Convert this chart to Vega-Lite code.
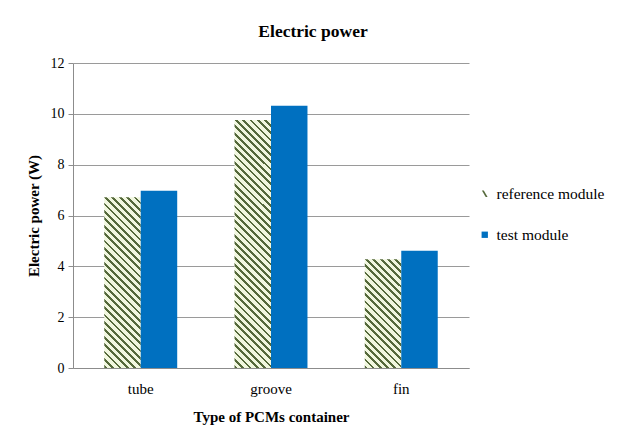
{
  "$schema": "https://vega.github.io/schema/vega-lite/v6.json",
  "width": 396,
  "height": 305,
  "autosize": "none",
  "padding": {"left": 73, "top": 63, "right": 151, "bottom": 62},
  "background": "white",
  "title": {"text": "Electric power", "font": "Liberation Serif", "fontSize": 17.5, "fontWeight": "bold", "color": "#000000", "anchor": "middle", "dx": 42, "offset": 16},
  "data": {"values": [
    {"type": "tube", "module": "reference module", "power": 6.72},
    {"type": "tube", "module": "test module", "power": 6.97},
    {"type": "groove", "module": "reference module", "power": 9.76},
    {"type": "groove", "module": "test module", "power": 10.32},
    {"type": "fin", "module": "reference module", "power": 4.28},
    {"type": "fin", "module": "test module", "power": 4.61}
  ]},
  "mark": {"type": "bar"},
  "encoding": {
    "x": {"field": "type", "type": "nominal", "sort": ["tube", "groove", "fin"], "scale": {"paddingInner": 0.44, "paddingOuter": 0.24},
      "axis": {"title": "Type of PCMs container", "labelAngle": 0, "ticks": false, "labelPadding": 13, "titlePadding": 13, "domainColor": "#8c8c8c",
        "labelFont": "Liberation Serif", "labelFontSize": 15, "labelColor": "#000000", "titleFont": "Liberation Serif", "titleFontSize": 15, "titleFontWeight": "bold", "titleColor": "#000000"}},
    "xOffset": {"field": "module", "type": "nominal", "sort": ["reference module", "test module"]},
    "y": {"field": "power", "type": "quantitative", "scale": {"domain": [0, 12]},
      "axis": {"title": "Electric power  (W)", "values": [0, 2, 4, 6, 8, 10, 12], "grid": true, "tickSize": 5, "labelPadding": 4, "titlePadding": 9, "domainColor": "#8c8c8c", "tickColor": "#8c8c8c", "gridColor": "#9a9a9a",
        "labelFont": "Liberation Serif", "labelFontSize": 14, "labelColor": "#000000", "titleFont": "Liberation Serif", "titleFontSize": 15, "titleFontWeight": "bold", "titleColor": "#000000"}},
    "fill": {
      "field": "module", "type": "nominal",
      "scale": {"domain": ["reference module", "test module"], "range": ["#55693b", "#0070c0"]},
      "legend": {"title": null, "orient": "none", "legendX": 404, "legendY": 123, "padding": 0, "symbolSize": 40, "rowPadding": 24, "labelFont": "Liberation Serif", "labelFontSize": 15.5, "labelColor": "#000000", "labelOffset": 4,
        "encode": {"symbols": {"update": {"shape": {"signal": "datum.value === 'reference module' ? 'M-0.9,-1L-0.3,-1L0.9,1L0.3,1Z' : 'square'"}}}}},
      "condition": [
        {"test": "datum.module === 'reference module' && datum.type === 'tube'", "value": {"gradient": "linear", "x1": 0, "y1": 1, "x2": 0.2476, "y2": -0.16, "stops": [
          {"offset": 0, "color": "#55693b"}, {"offset": 0.0136, "color": "#55693b"}, {"offset": 0.0136, "color": "#f1f7df"}, {"offset": 0.0357, "color": "#f1f7df"},
          {"offset": 0.0357, "color": "#55693b"}, {"offset": 0.0493, "color": "#55693b"}, {"offset": 0.0493, "color": "#f1f7df"}, {"offset": 0.0714, "color": "#f1f7df"},
          {"offset": 0.0714, "color": "#55693b"}, {"offset": 0.085, "color": "#55693b"}, {"offset": 0.085, "color": "#f1f7df"}, {"offset": 0.1071, "color": "#f1f7df"},
          {"offset": 0.1071, "color": "#55693b"}, {"offset": 0.1207, "color": "#55693b"}, {"offset": 0.1207, "color": "#f1f7df"}, {"offset": 0.1429, "color": "#f1f7df"},
          {"offset": 0.1429, "color": "#55693b"}, {"offset": 0.1564, "color": "#55693b"}, {"offset": 0.1564, "color": "#f1f7df"}, {"offset": 0.1786, "color": "#f1f7df"},
          {"offset": 0.1786, "color": "#55693b"}, {"offset": 0.1921, "color": "#55693b"}, {"offset": 0.1921, "color": "#f1f7df"}, {"offset": 0.2143, "color": "#f1f7df"},
          {"offset": 0.2143, "color": "#55693b"}, {"offset": 0.2279, "color": "#55693b"}, {"offset": 0.2279, "color": "#f1f7df"}, {"offset": 0.25, "color": "#f1f7df"},
          {"offset": 0.25, "color": "#55693b"}, {"offset": 0.2636, "color": "#55693b"}, {"offset": 0.2636, "color": "#f1f7df"}, {"offset": 0.2857, "color": "#f1f7df"},
          {"offset": 0.2857, "color": "#55693b"}, {"offset": 0.2993, "color": "#55693b"}, {"offset": 0.2993, "color": "#f1f7df"}, {"offset": 0.3214, "color": "#f1f7df"},
          {"offset": 0.3214, "color": "#55693b"}, {"offset": 0.335, "color": "#55693b"}, {"offset": 0.335, "color": "#f1f7df"}, {"offset": 0.3571, "color": "#f1f7df"},
          {"offset": 0.3571, "color": "#55693b"}, {"offset": 0.3707, "color": "#55693b"}, {"offset": 0.3707, "color": "#f1f7df"}, {"offset": 0.3929, "color": "#f1f7df"},
          {"offset": 0.3929, "color": "#55693b"}, {"offset": 0.4064, "color": "#55693b"}, {"offset": 0.4064, "color": "#f1f7df"}, {"offset": 0.4286, "color": "#f1f7df"},
          {"offset": 0.4286, "color": "#55693b"}, {"offset": 0.4421, "color": "#55693b"}, {"offset": 0.4421, "color": "#f1f7df"}, {"offset": 0.4643, "color": "#f1f7df"},
          {"offset": 0.4643, "color": "#55693b"}, {"offset": 0.4779, "color": "#55693b"}, {"offset": 0.4779, "color": "#f1f7df"}, {"offset": 0.5, "color": "#f1f7df"},
          {"offset": 0.5, "color": "#55693b"}, {"offset": 0.5136, "color": "#55693b"}, {"offset": 0.5136, "color": "#f1f7df"}, {"offset": 0.5357, "color": "#f1f7df"},
          {"offset": 0.5357, "color": "#55693b"}, {"offset": 0.5493, "color": "#55693b"}, {"offset": 0.5493, "color": "#f1f7df"}, {"offset": 0.5714, "color": "#f1f7df"},
          {"offset": 0.5714, "color": "#55693b"}, {"offset": 0.585, "color": "#55693b"}, {"offset": 0.585, "color": "#f1f7df"}, {"offset": 0.6071, "color": "#f1f7df"},
          {"offset": 0.6071, "color": "#55693b"}, {"offset": 0.6207, "color": "#55693b"}, {"offset": 0.6207, "color": "#f1f7df"}, {"offset": 0.6429, "color": "#f1f7df"},
          {"offset": 0.6429, "color": "#55693b"}, {"offset": 0.6564, "color": "#55693b"}, {"offset": 0.6564, "color": "#f1f7df"}, {"offset": 0.6786, "color": "#f1f7df"},
          {"offset": 0.6786, "color": "#55693b"}, {"offset": 0.6921, "color": "#55693b"}, {"offset": 0.6921, "color": "#f1f7df"}, {"offset": 0.7143, "color": "#f1f7df"},
          {"offset": 0.7143, "color": "#55693b"}, {"offset": 0.7279, "color": "#55693b"}, {"offset": 0.7279, "color": "#f1f7df"}, {"offset": 0.75, "color": "#f1f7df"},
          {"offset": 0.75, "color": "#55693b"}, {"offset": 0.7636, "color": "#55693b"}, {"offset": 0.7636, "color": "#f1f7df"}, {"offset": 0.7857, "color": "#f1f7df"},
          {"offset": 0.7857, "color": "#55693b"}, {"offset": 0.7993, "color": "#55693b"}, {"offset": 0.7993, "color": "#f1f7df"}, {"offset": 0.8214, "color": "#f1f7df"},
          {"offset": 0.8214, "color": "#55693b"}, {"offset": 0.835, "color": "#55693b"}, {"offset": 0.835, "color": "#f1f7df"}, {"offset": 0.8571, "color": "#f1f7df"},
          {"offset": 0.8571, "color": "#55693b"}, {"offset": 0.8707, "color": "#55693b"}, {"offset": 0.8707, "color": "#f1f7df"}, {"offset": 0.8929, "color": "#f1f7df"},
          {"offset": 0.8929, "color": "#55693b"}, {"offset": 0.9064, "color": "#55693b"}, {"offset": 0.9064, "color": "#f1f7df"}, {"offset": 0.9286, "color": "#f1f7df"},
          {"offset": 0.9286, "color": "#55693b"}, {"offset": 0.9421, "color": "#55693b"}, {"offset": 0.9421, "color": "#f1f7df"}, {"offset": 0.9643, "color": "#f1f7df"},
          {"offset": 0.9643, "color": "#55693b"}, {"offset": 0.9779, "color": "#55693b"}, {"offset": 0.9779, "color": "#f1f7df"}, {"offset": 1, "color": "#f1f7df"}
        ]}},
        {"test": "datum.module === 'reference module' && datum.type === 'groove'", "value": {"gradient": "linear", "x1": 0, "y1": 1, "x2": 0.1649, "y2": -0.1227, "stops": [
          {"offset": 0, "color": "#55693b"}, {"offset": 0.0097, "color": "#55693b"}, {"offset": 0.0097, "color": "#f1f7df"}, {"offset": 0.0256, "color": "#f1f7df"},
          {"offset": 0.0256, "color": "#55693b"}, {"offset": 0.0354, "color": "#55693b"}, {"offset": 0.0354, "color": "#f1f7df"}, {"offset": 0.0513, "color": "#f1f7df"},
          {"offset": 0.0513, "color": "#55693b"}, {"offset": 0.061, "color": "#55693b"}, {"offset": 0.061, "color": "#f1f7df"}, {"offset": 0.0769, "color": "#f1f7df"},
          {"offset": 0.0769, "color": "#55693b"}, {"offset": 0.0867, "color": "#55693b"}, {"offset": 0.0867, "color": "#f1f7df"}, {"offset": 0.1026, "color": "#f1f7df"},
          {"offset": 0.1026, "color": "#55693b"}, {"offset": 0.1123, "color": "#55693b"}, {"offset": 0.1123, "color": "#f1f7df"}, {"offset": 0.1282, "color": "#f1f7df"},
          {"offset": 0.1282, "color": "#55693b"}, {"offset": 0.138, "color": "#55693b"}, {"offset": 0.138, "color": "#f1f7df"}, {"offset": 0.1538, "color": "#f1f7df"},
          {"offset": 0.1538, "color": "#55693b"}, {"offset": 0.1636, "color": "#55693b"}, {"offset": 0.1636, "color": "#f1f7df"}, {"offset": 0.1795, "color": "#f1f7df"},
          {"offset": 0.1795, "color": "#55693b"}, {"offset": 0.1892, "color": "#55693b"}, {"offset": 0.1892, "color": "#f1f7df"}, {"offset": 0.2051, "color": "#f1f7df"},
          {"offset": 0.2051, "color": "#55693b"}, {"offset": 0.2149, "color": "#55693b"}, {"offset": 0.2149, "color": "#f1f7df"}, {"offset": 0.2308, "color": "#f1f7df"},
          {"offset": 0.2308, "color": "#55693b"}, {"offset": 0.2405, "color": "#55693b"}, {"offset": 0.2405, "color": "#f1f7df"}, {"offset": 0.2564, "color": "#f1f7df"},
          {"offset": 0.2564, "color": "#55693b"}, {"offset": 0.2662, "color": "#55693b"}, {"offset": 0.2662, "color": "#f1f7df"}, {"offset": 0.2821, "color": "#f1f7df"},
          {"offset": 0.2821, "color": "#55693b"}, {"offset": 0.2918, "color": "#55693b"}, {"offset": 0.2918, "color": "#f1f7df"}, {"offset": 0.3077, "color": "#f1f7df"},
          {"offset": 0.3077, "color": "#55693b"}, {"offset": 0.3174, "color": "#55693b"}, {"offset": 0.3174, "color": "#f1f7df"}, {"offset": 0.3333, "color": "#f1f7df"},
          {"offset": 0.3333, "color": "#55693b"}, {"offset": 0.3431, "color": "#55693b"}, {"offset": 0.3431, "color": "#f1f7df"}, {"offset": 0.359, "color": "#f1f7df"},
          {"offset": 0.359, "color": "#55693b"}, {"offset": 0.3687, "color": "#55693b"}, {"offset": 0.3687, "color": "#f1f7df"}, {"offset": 0.3846, "color": "#f1f7df"},
          {"offset": 0.3846, "color": "#55693b"}, {"offset": 0.3944, "color": "#55693b"}, {"offset": 0.3944, "color": "#f1f7df"}, {"offset": 0.4103, "color": "#f1f7df"},
          {"offset": 0.4103, "color": "#55693b"}, {"offset": 0.42, "color": "#55693b"}, {"offset": 0.42, "color": "#f1f7df"}, {"offset": 0.4359, "color": "#f1f7df"},
          {"offset": 0.4359, "color": "#55693b"}, {"offset": 0.4456, "color": "#55693b"}, {"offset": 0.4456, "color": "#f1f7df"}, {"offset": 0.4615, "color": "#f1f7df"},
          {"offset": 0.4615, "color": "#55693b"}, {"offset": 0.4713, "color": "#55693b"}, {"offset": 0.4713, "color": "#f1f7df"}, {"offset": 0.4872, "color": "#f1f7df"},
          {"offset": 0.4872, "color": "#55693b"}, {"offset": 0.4969, "color": "#55693b"}, {"offset": 0.4969, "color": "#f1f7df"}, {"offset": 0.5128, "color": "#f1f7df"},
          {"offset": 0.5128, "color": "#55693b"}, {"offset": 0.5226, "color": "#55693b"}, {"offset": 0.5226, "color": "#f1f7df"}, {"offset": 0.5385, "color": "#f1f7df"},
          {"offset": 0.5385, "color": "#55693b"}, {"offset": 0.5482, "color": "#55693b"}, {"offset": 0.5482, "color": "#f1f7df"}, {"offset": 0.5641, "color": "#f1f7df"},
          {"offset": 0.5641, "color": "#55693b"}, {"offset": 0.5738, "color": "#55693b"}, {"offset": 0.5738, "color": "#f1f7df"}, {"offset": 0.5897, "color": "#f1f7df"},
          {"offset": 0.5897, "color": "#55693b"}, {"offset": 0.5995, "color": "#55693b"}, {"offset": 0.5995, "color": "#f1f7df"}, {"offset": 0.6154, "color": "#f1f7df"},
          {"offset": 0.6154, "color": "#55693b"}, {"offset": 0.6251, "color": "#55693b"}, {"offset": 0.6251, "color": "#f1f7df"}, {"offset": 0.641, "color": "#f1f7df"},
          {"offset": 0.641, "color": "#55693b"}, {"offset": 0.6508, "color": "#55693b"}, {"offset": 0.6508, "color": "#f1f7df"}, {"offset": 0.6667, "color": "#f1f7df"},
          {"offset": 0.6667, "color": "#55693b"}, {"offset": 0.6764, "color": "#55693b"}, {"offset": 0.6764, "color": "#f1f7df"}, {"offset": 0.6923, "color": "#f1f7df"},
          {"offset": 0.6923, "color": "#55693b"}, {"offset": 0.7021, "color": "#55693b"}, {"offset": 0.7021, "color": "#f1f7df"}, {"offset": 0.7179, "color": "#f1f7df"},
          {"offset": 0.7179, "color": "#55693b"}, {"offset": 0.7277, "color": "#55693b"}, {"offset": 0.7277, "color": "#f1f7df"}, {"offset": 0.7436, "color": "#f1f7df"},
          {"offset": 0.7436, "color": "#55693b"}, {"offset": 0.7533, "color": "#55693b"}, {"offset": 0.7533, "color": "#f1f7df"}, {"offset": 0.7692, "color": "#f1f7df"},
          {"offset": 0.7692, "color": "#55693b"}, {"offset": 0.779, "color": "#55693b"}, {"offset": 0.779, "color": "#f1f7df"}, {"offset": 0.7949, "color": "#f1f7df"},
          {"offset": 0.7949, "color": "#55693b"}, {"offset": 0.8046, "color": "#55693b"}, {"offset": 0.8046, "color": "#f1f7df"}, {"offset": 0.8205, "color": "#f1f7df"},
          {"offset": 0.8205, "color": "#55693b"}, {"offset": 0.8303, "color": "#55693b"}, {"offset": 0.8303, "color": "#f1f7df"}, {"offset": 0.8462, "color": "#f1f7df"},
          {"offset": 0.8462, "color": "#55693b"}, {"offset": 0.8559, "color": "#55693b"}, {"offset": 0.8559, "color": "#f1f7df"}, {"offset": 0.8718, "color": "#f1f7df"},
          {"offset": 0.8718, "color": "#55693b"}, {"offset": 0.8815, "color": "#55693b"}, {"offset": 0.8815, "color": "#f1f7df"}, {"offset": 0.8974, "color": "#f1f7df"},
          {"offset": 0.8974, "color": "#55693b"}, {"offset": 0.9072, "color": "#55693b"}, {"offset": 0.9072, "color": "#f1f7df"}, {"offset": 0.9231, "color": "#f1f7df"},
          {"offset": 0.9231, "color": "#55693b"}, {"offset": 0.9328, "color": "#55693b"}, {"offset": 0.9328, "color": "#f1f7df"}, {"offset": 0.9487, "color": "#f1f7df"},
          {"offset": 0.9487, "color": "#55693b"}, {"offset": 0.9585, "color": "#55693b"}, {"offset": 0.9585, "color": "#f1f7df"}, {"offset": 0.9744, "color": "#f1f7df"},
          {"offset": 0.9744, "color": "#55693b"}, {"offset": 0.9841, "color": "#55693b"}, {"offset": 0.9841, "color": "#f1f7df"}, {"offset": 1, "color": "#f1f7df"}
        ]}},
        {"test": "datum.module === 'reference module' && datum.type === 'fin'", "value": {"gradient": "linear", "x1": 0, "y1": 1, "x2": 0.4021, "y2": -0.2003, "stops": [
          {"offset": 0, "color": "#55693b"}, {"offset": 0.019, "color": "#55693b"}, {"offset": 0.019, "color": "#f1f7df"}, {"offset": 0.05, "color": "#f1f7df"},
          {"offset": 0.05, "color": "#55693b"}, {"offset": 0.069, "color": "#55693b"}, {"offset": 0.069, "color": "#f1f7df"}, {"offset": 0.1, "color": "#f1f7df"},
          {"offset": 0.1, "color": "#55693b"}, {"offset": 0.119, "color": "#55693b"}, {"offset": 0.119, "color": "#f1f7df"}, {"offset": 0.15, "color": "#f1f7df"},
          {"offset": 0.15, "color": "#55693b"}, {"offset": 0.169, "color": "#55693b"}, {"offset": 0.169, "color": "#f1f7df"}, {"offset": 0.2, "color": "#f1f7df"},
          {"offset": 0.2, "color": "#55693b"}, {"offset": 0.219, "color": "#55693b"}, {"offset": 0.219, "color": "#f1f7df"}, {"offset": 0.25, "color": "#f1f7df"},
          {"offset": 0.25, "color": "#55693b"}, {"offset": 0.269, "color": "#55693b"}, {"offset": 0.269, "color": "#f1f7df"}, {"offset": 0.3, "color": "#f1f7df"},
          {"offset": 0.3, "color": "#55693b"}, {"offset": 0.319, "color": "#55693b"}, {"offset": 0.319, "color": "#f1f7df"}, {"offset": 0.35, "color": "#f1f7df"},
          {"offset": 0.35, "color": "#55693b"}, {"offset": 0.369, "color": "#55693b"}, {"offset": 0.369, "color": "#f1f7df"}, {"offset": 0.4, "color": "#f1f7df"},
          {"offset": 0.4, "color": "#55693b"}, {"offset": 0.419, "color": "#55693b"}, {"offset": 0.419, "color": "#f1f7df"}, {"offset": 0.45, "color": "#f1f7df"},
          {"offset": 0.45, "color": "#55693b"}, {"offset": 0.469, "color": "#55693b"}, {"offset": 0.469, "color": "#f1f7df"}, {"offset": 0.5, "color": "#f1f7df"},
          {"offset": 0.5, "color": "#55693b"}, {"offset": 0.519, "color": "#55693b"}, {"offset": 0.519, "color": "#f1f7df"}, {"offset": 0.55, "color": "#f1f7df"},
          {"offset": 0.55, "color": "#55693b"}, {"offset": 0.569, "color": "#55693b"}, {"offset": 0.569, "color": "#f1f7df"}, {"offset": 0.6, "color": "#f1f7df"},
          {"offset": 0.6, "color": "#55693b"}, {"offset": 0.619, "color": "#55693b"}, {"offset": 0.619, "color": "#f1f7df"}, {"offset": 0.65, "color": "#f1f7df"},
          {"offset": 0.65, "color": "#55693b"}, {"offset": 0.669, "color": "#55693b"}, {"offset": 0.669, "color": "#f1f7df"}, {"offset": 0.7, "color": "#f1f7df"},
          {"offset": 0.7, "color": "#55693b"}, {"offset": 0.719, "color": "#55693b"}, {"offset": 0.719, "color": "#f1f7df"}, {"offset": 0.75, "color": "#f1f7df"},
          {"offset": 0.75, "color": "#55693b"}, {"offset": 0.769, "color": "#55693b"}, {"offset": 0.769, "color": "#f1f7df"}, {"offset": 0.8, "color": "#f1f7df"},
          {"offset": 0.8, "color": "#55693b"}, {"offset": 0.819, "color": "#55693b"}, {"offset": 0.819, "color": "#f1f7df"}, {"offset": 0.85, "color": "#f1f7df"},
          {"offset": 0.85, "color": "#55693b"}, {"offset": 0.869, "color": "#55693b"}, {"offset": 0.869, "color": "#f1f7df"}, {"offset": 0.9, "color": "#f1f7df"},
          {"offset": 0.9, "color": "#55693b"}, {"offset": 0.919, "color": "#55693b"}, {"offset": 0.919, "color": "#f1f7df"}, {"offset": 0.95, "color": "#f1f7df"},
          {"offset": 0.95, "color": "#55693b"}, {"offset": 0.969, "color": "#55693b"}, {"offset": 0.969, "color": "#f1f7df"}, {"offset": 1, "color": "#f1f7df"}
        ]}}
      ]
    }
  },
  "config": {
    "view": {"stroke": null},
    "font": "Liberation Serif",
    "axis": {"labelFont": "Liberation Serif", "titleFont": "Liberation Serif", "domainColor": "#8c8c8c", "tickColor": "#8c8c8c"},
    "legend": {"labelFont": "Liberation Serif"}
  }
}
